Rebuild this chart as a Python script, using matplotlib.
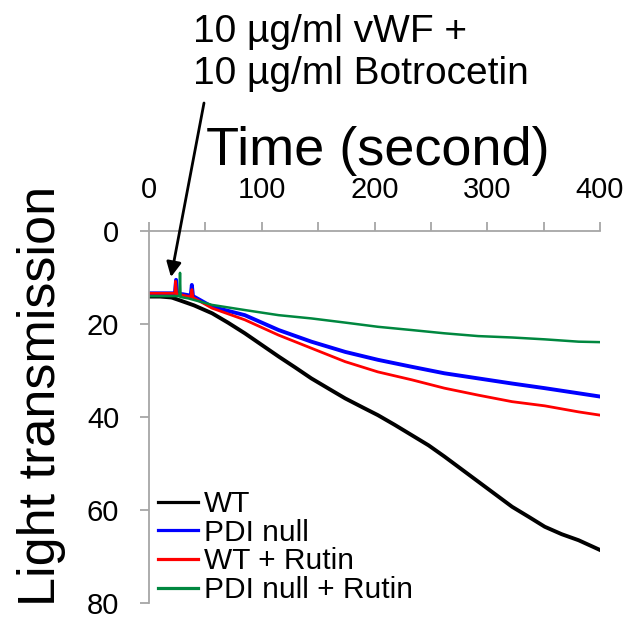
import matplotlib
matplotlib.use("Agg")
import matplotlib.pyplot as plt

plt.rcParams["font.family"] = ["Liberation Sans", "DejaVu Sans"]

# 시간(초)과 투과율 값 - 그림에서 읽은 값
wt_t = [0, 10, 20, 26, 40, 56, 70, 85, 100, 115, 130, 144, 160, 174, 190, 203,
        218, 233, 248, 262, 277, 292, 307, 322, 337, 351, 366, 381, 400]
wt_v = [14.1, 14.1, 14.3, 14.8, 16.0, 17.7, 19.7, 22.0, 24.5, 27.0, 29.4, 31.7, 34.0,
        36.0, 38.0, 39.6, 41.7, 43.9, 46.1, 48.5, 51.2, 53.9, 56.6, 59.3, 61.5, 63.6,
        65.2, 66.5, 68.6]

pdi_t = [0, 10, 20, 23, 24, 25, 30, 37, 38, 39, 45, 56, 85, 115, 144, 174, 203,
         233, 262, 292, 322, 351, 381, 400]
pdi_v = [13.4, 13.4, 13.4, 13.4, 10.5, 13.5, 13.6, 13.9, 11.6, 14.0, 14.8, 16.3, 18.1,
         21.3, 23.8, 26.0, 27.7, 29.2, 30.6, 31.7, 32.8, 33.8, 34.9, 35.6]

wtr_t = [0, 10, 20, 23, 23.5, 24.5, 30, 37, 38, 39, 45, 56, 85, 115, 144, 174, 203,
         233, 262, 292, 322, 351, 381, 400]
wtr_v = [13.4, 13.4, 13.4, 13.4, 10.8, 13.5, 13.8, 14.2, 12.6, 14.3, 15.1, 16.6, 19.1,
         22.4, 25.2, 28.1, 30.3, 32.0, 33.8, 35.3, 36.7, 37.6, 38.9, 39.6]

pdir_t = [0, 10, 20, 27, 27.5, 28, 35, 56, 85, 115, 144, 174, 203, 233, 262, 292,
          322, 351, 381, 400]
pdir_v = [14.0, 14.0, 14.0, 14.0, 9.0, 14.2, 14.5, 15.9, 17.0, 18.1, 18.8, 19.7,
          20.6, 21.3, 22.0, 22.6, 22.9, 23.3, 23.8, 23.9]

labels = ["WT", "PDI null", "WT + Rutin", "PDI null + Rutin"]
colors = ["black", "#0000FF", "#FF0000", "#00873F"]

W, H = 629, 619
fig = plt.figure(figsize=(W / 100, H / 100), dpi=100)
ax = fig.add_axes([149 / W, 1 - 603 / H, (600 - 149) / W, (603 - 231) / H])

ax.plot(wt_t, wt_v, color=colors[0], lw=2.8, label=labels[0])
ax.plot(pdi_t, pdi_v, color=colors[1], lw=2.8, label=labels[1])
ax.plot(wtr_t, wtr_v, color=colors[2], lw=2.0, label=labels[2])
ax.plot(pdir_t, pdir_v, color=colors[3], lw=1.8, label=labels[3])

ax.set_xlim(0, 400)
ax.set_ylim(80, 0)
ax.xaxis.tick_top()
ax.set_xticks([0, 100, 200, 300, 400])
ax.set_xticks([50, 150, 250, 350], minor=True)
ax.set_yticks([0, 20, 40, 60, 80])

grey = "#A6A6A6"
for s in ["right", "bottom"]:
    ax.spines[s].set_visible(False)
for s in ["left", "top"]:
    ax.spines[s].set_color(grey)
    ax.spines[s].set_linewidth(1.3)

ax.tick_params(axis="x", which="both", direction="out", length=6.5, width=1.3,
               color=grey, labelsize=21, pad=13)
ax.tick_params(axis="y", direction="out", length=6.5, width=1.3, color=grey,
               labelsize=21, pad=15)

leg = ax.legend(loc="lower left", bbox_to_anchor=(0.0, -0.027), frameon=False,
                fontsize=21.5, handlelength=1.33, handletextpad=0.2,
                labelspacing=0.02, borderaxespad=0, borderpad=0.3)
for line in leg.get_lines():
    line.set_linewidth(2.3)

# 축 제목
fig.text(378 / W, 1 - 165 / H, "Time (second)", ha="center", va="baseline", fontsize=39)
fig.text(42 / W, 1 - 396 / H, "Light transmission", ha="center", va="center",
         rotation=90, fontsize=37.5)

# 주석
fig.text(193 / W, 1 - 42 / H, "10 µg/ml vWF +", ha="left", va="baseline", fontsize=28)
fig.text(193 / W, 1 - 84 / H, "10 µg/ml Botrocetin", ha="left", va="baseline", fontsize=28)
ax.annotate("", xy=(19.5, 9.9), xycoords="data",
            xytext=(204, H - 103), textcoords="figure pixels",
            arrowprops=dict(arrowstyle="-|>", color="black", lw=2, mutation_scale=22,
                            shrinkA=0, shrinkB=0),
            annotation_clip=False)

fig.savefig("out.png", dpi=100)
